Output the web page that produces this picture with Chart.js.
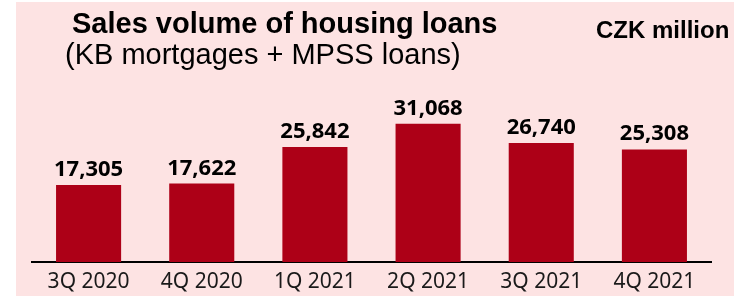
<!DOCTYPE html>
<html>
<head>
<meta charset="utf-8">
<script src="https://cdn.jsdelivr.net/npm/chart.js@4"></script>
<style>
  html, body { margin: 0; padding: 0; background: #ffffff; }
  #box {
    position: absolute; left: 16px; top: 2px;
    width: 718px; height: 294px;
    background: #fde3e3;
  }
</style>
</head>
<body>
<div id="box"><canvas id="chart" width="718" height="294"></canvas></div>
<script>
const categories = ['3Q 2020', '4Q 2020', '1Q 2021', '2Q 2021', '3Q 2021', '4Q 2021'];
const volumes = [17305, 17622, 25842, 31068, 26740, 25308];
const titleText = 'Sales volume of housing loans';
const subtitleText = '(KB mortgages + MPSS loans)';
const unitText = 'CZK million';

// headings drawn straight onto the canvas
const headings = {
    id: 'headings',
    afterDraw(chart) {
        const ctx = chart.ctx;
        ctx.save();
        ctx.fillStyle = '#000000';
        ctx.textAlign = 'left';
        ctx.textBaseline = 'alphabetic';
        ctx.font = 'bold 29px "Liberation Sans", Arial, sans-serif';
        ctx.fillText(titleText, 56, 31);
        ctx.font = '29px "Liberation Sans", Arial, sans-serif';
        ctx.fillText(subtitleText, 49, 61.5);
        ctx.font = 'bold 24px "Liberation Sans", Arial, sans-serif';
        ctx.fillText(unitText, 580, 36);
        ctx.restore();
    }
};

// value labels above each bar
const valueLabels = {
    id: 'valueLabels',
    afterDatasetsDraw(chart) {
        const ctx = chart.ctx;
        const meta = chart.getDatasetMeta(0);
        ctx.save();
        ctx.fillStyle = '#000000';
        ctx.textAlign = 'center';
        ctx.textBaseline = 'alphabetic';
        ctx.font = 'bold 22px "Noto Sans", sans-serif';
        meta.data.forEach((bar, i) => {
            ctx.fillText(volumes[i].toLocaleString('en-US'), bar.x, bar.y - 9);
        });
        ctx.restore();
    }
};

new Chart(document.getElementById('chart'), {
    type: 'bar',
    data: {
        labels: categories,
        datasets: [{
            data: volumes,
            backgroundColor: '#ad0017',
            borderWidth: 0,
            categoryPercentage: 1,
            barPercentage: 0.575
        }]
    },
    options: {
        responsive: false,
        animation: false,
        layout: { padding: { top: 82, left: 16, right: 23, bottom: -7 } },
        plugins: {
            legend: { display: false },
            tooltip: { enabled: false }
        },
        scales: {
            y: { display: false, min: 0, max: 40000 },
            x: {
                grid: { display: false, drawTicks: false },
                border: { display: true, color: '#000000', width: 2 },
                ticks: {
                    color: '#1a1a1a',
                    padding: 10,
                    font: { family: '"Noto Sans", sans-serif', size: 21, lineHeight: 1 }
                }
            }
        }
    },
    plugins: [headings, valueLabels]
});
</script>
</body>
</html>
